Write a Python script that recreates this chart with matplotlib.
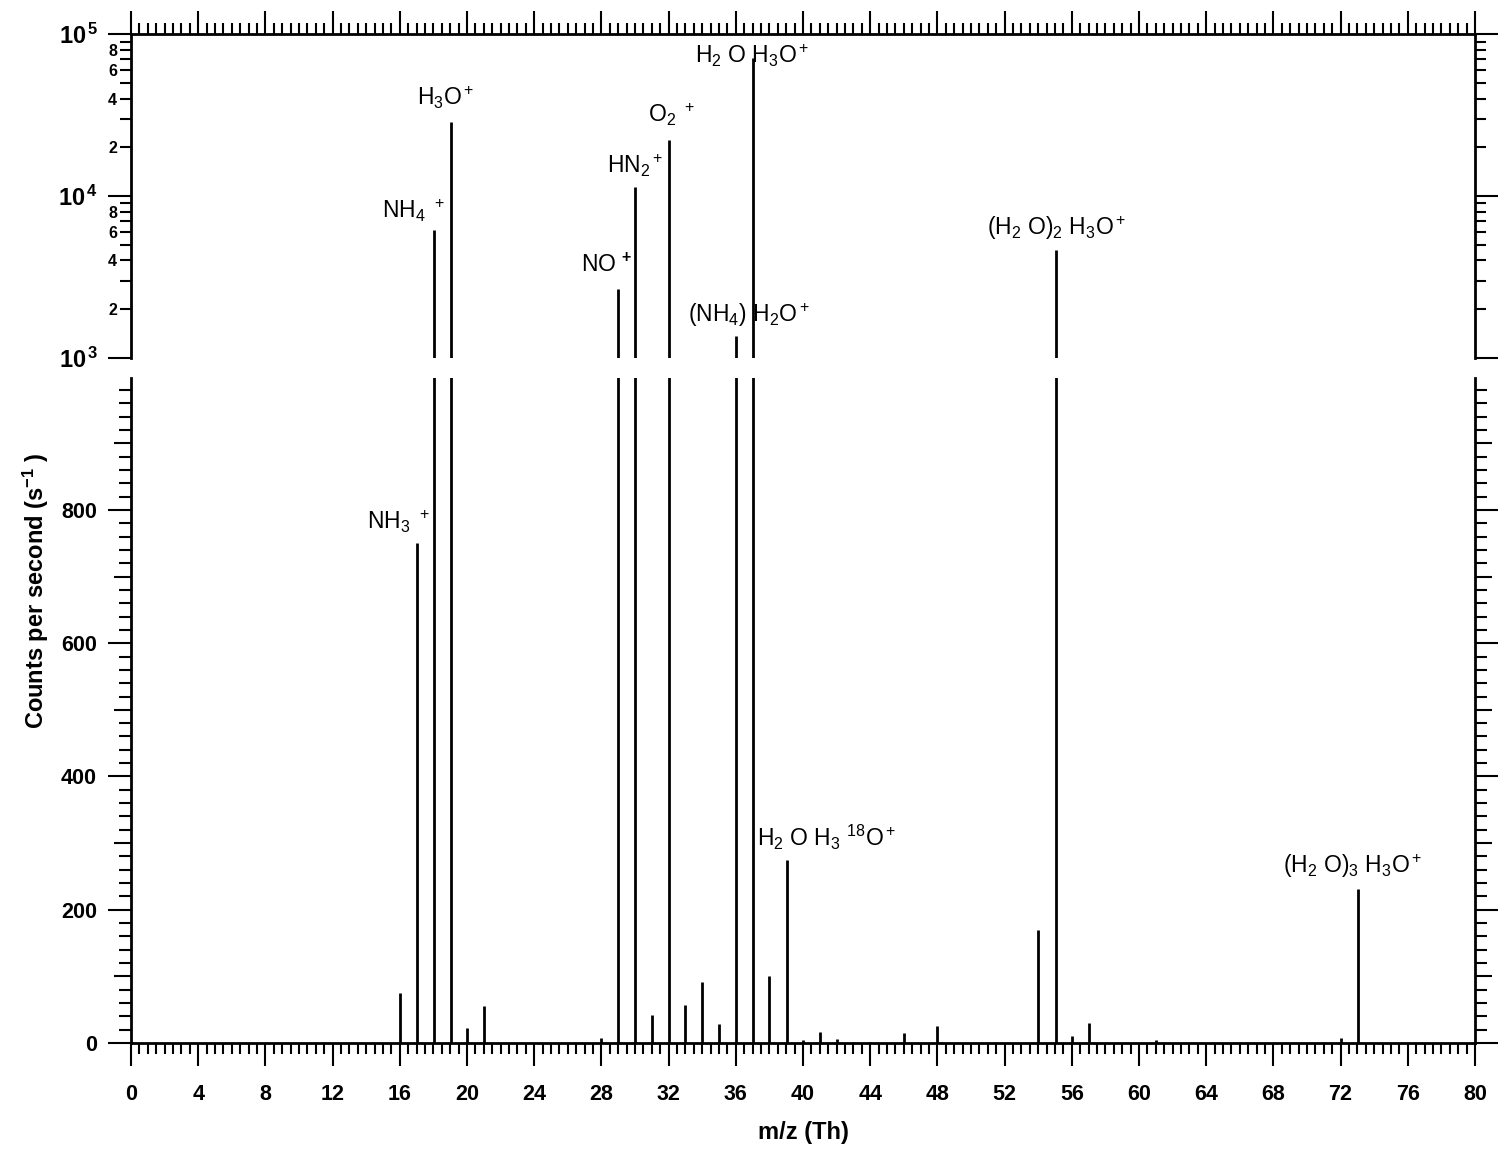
import math
import numpy as np
import matplotlib
matplotlib.use("Agg")
import matplotlib.pyplot as plt
from matplotlib.ticker import MultipleLocator, LogLocator, FuncFormatter

plt.rcParams['font.family'] = 'Liberation Sans'
plt.rcParams['mathtext.fontset'] = 'custom'
plt.rcParams['mathtext.rm'] = 'Liberation Sans'
plt.rcParams['mathtext.it'] = 'Liberation Sans:italic'
plt.rcParams['mathtext.bf'] = 'Liberation Sans:bold'

# peak positions (m/z) and counts per second
mz = [16.0, 17.02, 18.03, 19.02, 20.0, 21.0, 28.0, 29.0, 30.0, 31.0, 32.0, 33.0,
      34.0, 35.0, 36.04, 37.03, 38.0, 39.03, 40.0, 41.0, 42.0, 43.0, 44.0, 46.0,
      48.0, 54.0, 55.04, 56.0, 57.0, 61.0, 72.0, 73.05]
counts = [75, 750, 6150, 28600, 22, 55, 7, 2660, 11370, 42, 22200, 57,
          92, 28, 1360, 71400, 101, 275, 4, 16, 6, 2, 2, 15,
          25, 170, 4630, 10, 30, 4, 7, 231]

# peak labels in the log panel
lab_text = [r'NH$_4$ $^+$', r'H$_3$O$^+$', r'NO $^\mathbf{+}$', r'HN$_2{}^+$',
            r'O$_2$ $^+$', r'H$_2$ O H$_3$O$^+$', r'(NH$_4$) H$_2$O$^+$',
            r'(H$_2$ O)$_2$ H$_3$O$^+$']
lab_x = [16.8, 18.75, 28.3, 30.0, 32.2, 37.0, 36.8, 55.1]
lab_y = [8180, 40400, 3740, 15340, 31700, 73400, 1837, 6340]

# peak labels in the linear panel
lab2_text = [r'NH$_3$ $^+$', r'H$_2$ O H$_3$ $^{18}$O$^+$', r'(H$_2$ O)$_3$ H$_3$O$^+$']
lab2_x = [15.9, 41.4, 72.7]
lab2_y = [783, 308, 266]

W, H = 1511, 1159
fig = plt.figure(figsize=(W/100, H/100), dpi=100)
ax_top = fig.add_axes([131/W, 1-357.7/H, 1344/W, (357.7-34.3)/H])
ax_bot = fig.add_axes([131/W, 1-1043/H, 1344/W, (1043-378)/H])

ax_top.vlines(mz, 100, counts, color='black', linewidth=2.0)
ax_bot.vlines(mz, 0, counts, color='black', linewidth=2.0)

for ax in (ax_top, ax_bot):
    ax.set_xlim(0, 80)
    ax.xaxis.set_major_locator(MultipleLocator(4))
    ax.xaxis.set_minor_locator(MultipleLocator(0.5))
    for s in ax.spines.values():
        s.set_linewidth(2.0)

# top panel: log scale
ax_top.set_yscale('log')
ax_top.set_ylim(1e3, 1e5)
ax_top.spines['bottom'].set_visible(False)
ax_top.yaxis.set_major_locator(LogLocator(base=10))
ax_top.yaxis.set_minor_locator(LogLocator(base=10, subs=np.arange(2, 10)))
ax_top.yaxis.set_major_formatter(FuncFormatter(lambda v, p: r'$\mathbf{10^{\,%d}}$' % round(math.log10(v))))

def minor_lab(v, p):
    m = v / 10 ** math.floor(math.log10(v) + 1e-9)
    m = int(round(m))
    return str(m) if m in (2, 4, 6, 8) else ''

ax_top.yaxis.set_minor_formatter(FuncFormatter(minor_lab))
ax_top.tick_params(axis='x', which='both', direction='out', top=True, bottom=False,
                   labeltop=False, labelbottom=False, width=1.5)
ax_top.tick_params(axis='x', which='major', length=16.5)
ax_top.tick_params(axis='x', which='minor', length=8)
ax_top.tick_params(axis='y', which='both', direction='out', left=True, right=True, width=1.5)
ax_top.tick_params(axis='y', which='major', length=16.5, labelsize=17, pad=7)
ax_top.tick_params(axis='y', which='minor', length=8, labelsize=11.5, pad=2)

# bottom panel: linear
ax_bot.set_ylim(0, 998)
ax_bot.spines['top'].set_visible(False)
ax_bot.yaxis.set_major_locator(MultipleLocator(100))
ax_bot.yaxis.set_minor_locator(MultipleLocator(20))
ax_bot.yaxis.set_major_formatter(FuncFormatter(lambda v, p: '%d' % v if round(v) % 200 == 0 else ''))
ax_bot.xaxis.set_major_formatter(FuncFormatter(lambda v, p: '%d' % v))
ax_bot.tick_params(axis='x', which='both', direction='out', top=False, bottom=True, width=1.5)
ax_bot.tick_params(axis='x', which='major', length=16.5, labelsize=15.5, pad=13)
ax_bot.tick_params(axis='x', which='minor', length=8)
ax_bot.tick_params(axis='y', which='both', direction='out', left=True, right=True, width=1.5)
ax_bot.tick_params(axis='y', which='major', length=16.5, labelsize=15.5, pad=8)
ax_bot.tick_params(axis='y', which='minor', length=8.5)

for t, x, y in zip(lab_text, lab_x, lab_y):
    ax_top.text(x, y, t, fontsize=16.5, ha='center', va='center')
for t, x, y in zip(lab2_text, lab2_x, lab2_y):
    ax_bot.text(x, y, t, fontsize=16.5, ha='center', va='center')

fig.text(36/W, 1-591/H, r'Counts per second (s$^{\mathbf{-1}}$ )', rotation=90,
         fontsize=17, fontweight='bold', ha='center', va='center')
fig.text(803/W, 1-1133/H, 'm/z (Th)', fontsize=17, fontweight='bold', ha='center', va='center')

# medium-length ticks at the odd hundreds, bold tick labels
fig.canvas.draw()
for tick, loc in zip(ax_bot.yaxis.get_major_ticks(), ax_bot.yaxis.get_majorticklocs()):
    if round(loc) % 200 != 0:
        tick.tick1line.set_markersize(12)
        tick.tick2line.set_markersize(12)
for lbl in (ax_bot.get_xticklabels() + ax_bot.get_yticklabels()
            + ax_top.get_yticklabels(minor=True)):
    lbl.set_fontweight('bold')

fig.savefig('out.png', dpi=100)
